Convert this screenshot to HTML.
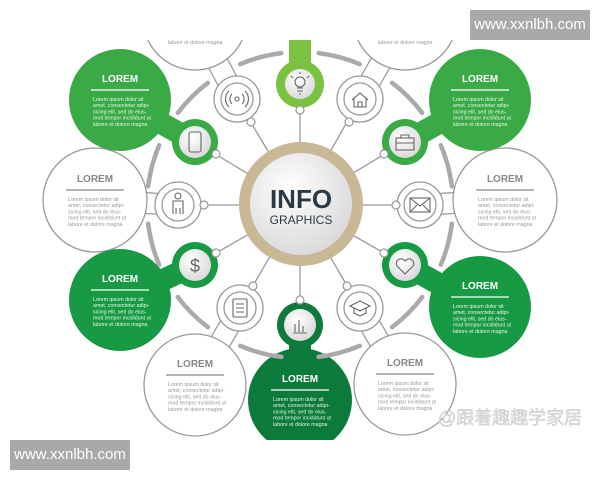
<!DOCTYPE html>
<html><head><meta charset="utf-8"><style>
html,body{margin:0;padding:0;background:#fff;width:600px;height:480px;overflow:hidden}
svg{display:block;font-family:"Liberation Sans",sans-serif}
.wm{position:absolute;background:#a9a9a9;color:#fff;font:15px "Liberation Sans",sans-serif;text-align:center;line-height:30px}
</style></head><body>
<svg width="600" height="480" viewBox="0 0 600 480">
<defs>
<clipPath id="c"><rect x="0" y="40" width="600" height="400"/></clipPath>
<radialGradient id="g" cx="40%" cy="35%" r="70%"><stop offset="0" stop-color="#fff"/><stop offset="1" stop-color="#d8d8d8"/></radialGradient>
</defs>
<g clip-path="url(#c)">
<g stroke="#999" stroke-width="1.3">
<line x1="300" y1="205" x2="237" y2="99"/><line x1="300" y1="205" x2="195" y2="142"/>
<line x1="300" y1="205" x2="178" y2="205"/><line x1="300" y1="205" x2="195" y2="265"/>
<line x1="300" y1="205" x2="240" y2="308"/><line x1="300" y1="205" x2="300" y2="325"/>
<line x1="300" y1="205" x2="360" y2="308"/><line x1="300" y1="205" x2="405" y2="265"/>
<line x1="300" y1="205" x2="420" y2="205"/><line x1="300" y1="205" x2="405" y2="142"/>
<line x1="300" y1="205" x2="360" y2="99"/><line x1="300" y1="205" x2="300" y2="84"/>
</g>
<g stroke-linecap="round">
<line x1="195" y1="142" x2="120" y2="100" stroke="#3aaa46" stroke-width="22"/>
<line x1="195" y1="265" x2="120" y2="300" stroke="#189a45" stroke-width="22"/>
<line x1="405" y1="142" x2="480" y2="100" stroke="#3aaa46" stroke-width="22"/>
<line x1="405" y1="265" x2="480" y2="307" stroke="#189a45" stroke-width="22"/>
<line x1="300" y1="325" x2="300" y2="400" stroke="#0b7a3a" stroke-width="22"/>
<line x1="300" y1="84" x2="300" y2="30" stroke="#7cc242" stroke-width="22"/>
</g>
<g stroke="#999" stroke-width="1.3" fill="#fff">
<path d="M237 99 L195 20" stroke-width="22"/><path d="M237 99 L195 20" stroke-width="19.5" stroke="#fff"/>
<path d="M178 205 L95 200" stroke-width="22"/><path d="M178 205 L95 200" stroke-width="19.5" stroke="#fff"/>
<path d="M240 308 L195 385" stroke-width="22"/><path d="M240 308 L195 385" stroke-width="19.5" stroke="#fff"/>
<path d="M360 308 L405 385" stroke-width="22"/><path d="M360 308 L405 385" stroke-width="19.5" stroke="#fff"/>
<path d="M420 205 L505 200" stroke-width="22"/><path d="M420 205 L505 200" stroke-width="19.5" stroke="#fff"/>
<path d="M360 99 L405 20" stroke-width="22"/><path d="M360 99 L405 20" stroke-width="19.5" stroke="#fff"/>
</g>
<g stroke="#999" stroke-width="1.3" fill="#fff">
<circle cx="195" cy="18" r="52"/><circle cx="405" cy="18" r="52"/>
<circle cx="95" cy="200" r="52"/><circle cx="505" cy="200" r="52"/>
<circle cx="195" cy="385" r="51"/><circle cx="405" cy="384" r="51"/>
</g>
<circle cx="120" cy="100" r="51" fill="#3aaa46"/>
<circle cx="480" cy="100" r="51" fill="#3aaa46"/>
<circle cx="120" cy="300" r="51" fill="#189a45"/>
<circle cx="480" cy="307" r="51" fill="#189a45"/>
<circle cx="300" cy="400" r="52" fill="#0b7a3a"/>
<g fill="none" stroke="#aaa" stroke-width="4.5" stroke-linecap="round" id="arcs"></g>
<g stroke="#999" stroke-width="1.3" fill="#fff">
<circle cx="237" cy="99" r="23"/><circle cx="178" cy="205" r="23"/><circle cx="240" cy="308" r="23"/>
<circle cx="360" cy="308" r="23"/><circle cx="420" cy="205" r="23"/><circle cx="360" cy="99" r="23"/>
<circle cx="237" cy="99" r="16"/><circle cx="178" cy="205" r="16"/><circle cx="240" cy="308" r="16"/>
<circle cx="360" cy="308" r="16"/><circle cx="420" cy="205" r="16"/><circle cx="360" cy="99" r="16"/>
</g>
<circle cx="195" cy="142" r="23" fill="#3aaa46"/><circle cx="195" cy="142" r="16" fill="url(#g)"/>
<circle cx="405" cy="142" r="23" fill="#3aaa46"/><circle cx="405" cy="142" r="16" fill="url(#g)"/>
<circle cx="195" cy="265" r="23" fill="#189a45"/><circle cx="195" cy="265" r="16" fill="url(#g)"/>
<circle cx="405" cy="265" r="23" fill="#189a45"/><circle cx="405" cy="265" r="16" fill="url(#g)"/>
<circle cx="300" cy="325" r="23" fill="#0b7a3a"/><circle cx="300" cy="325" r="16" fill="url(#g)"/>
<circle cx="300" cy="84" r="24" fill="#7cc242"/><circle cx="300" cy="84" r="15" fill="url(#g)"/>
<g fill="none" stroke="#666" stroke-width="1.1">
<circle cx="237" cy="99" r="2"/><path d="M232 94a7 7 0 0 0 0 10M242 94a7 7 0 0 1 0 10M229 91a11 11 0 0 0 0 16M245 91a11 11 0 0 1 0 16"/>
<rect x="189" y="132" width="12" height="20" rx="2"/>
<circle cx="178" cy="196" r="3"/><path d="M173 214v-13h10v13M176 214v-6M180 214v-6"/>
<text x="195" y="272" font-size="18" fill="#666" stroke="none" text-anchor="middle">$</text>
<rect x="233" y="299" width="14" height="18" rx="1"/><path d="M236 304h8M236 308h8M236 312h8"/>
<path d="M293 333h14M295 332v-8M299 332v-12M303 332v-6"/>
<path d="M350 306l10-5 10 5-10 5zM354 308v5l6 3 6-3v-5"/>
<path d="M405 274l-8-8a4 4 0 0 1 8-5 4 4 0 0 1 8 5z"/>
<rect x="410" y="198" width="20" height="14"/><path d="M410 198l10 8 10-8M410 212l7-7M430 212l-7-7"/>
<rect x="396" y="138" width="18" height="12"/><path d="M401 138v-3h8v3M396 143h18"/>
<path d="M352 100l8-7 8 7M354 98v9h12v-9M358 107v-5h4v5"/>
<circle cx="300" cy="82" r="5"/><path d="M297 88h6M297 91h6M299 94h2M291 76l2 2M309 76l-2 2M300 72v2"/>
</g>
<g fill="#fff" stroke="#999" stroke-width="1.2">
<circle cx="251" cy="122" r="4"/><circle cx="216" cy="154" r="4"/><circle cx="204" cy="205" r="4"/>
<circle cx="216" cy="253" r="4"/><circle cx="253" cy="286" r="4"/><circle cx="300" cy="300" r="4"/>
<circle cx="347" cy="286" r="4"/><circle cx="384" cy="253" r="4"/><circle cx="396" cy="205" r="4"/>
<circle cx="384" cy="154" r="4"/><circle cx="349" cy="122" r="4"/><circle cx="300" cy="110" r="4"/>
</g>
<circle cx="301" cy="204" r="62" fill="#c8b896"/>
<circle cx="301" cy="204" r="51" fill="url(#g)"/>
<text x="301" y="208" font-size="26" font-weight="bold" fill="#2b3a44" text-anchor="middle">INFO</text>
<text x="301" y="224" font-size="12" fill="#2b3a44" text-anchor="middle">GRAPHICS</text>
<g id="txt"></g>
<text x="510" y="424" font-size="18" fill="#e4e4e4" stroke="#c8c8c8" stroke-width="0.5" text-anchor="middle" font-family="'Liberation Sans','Noto Sans CJK SC',sans-serif">@跟着趣趣学家居</text>
</g>
</svg>
<div class="wm" style="left:470px;top:10px;width:120px;height:30px">www.xxnlbh.com</div>
<div class="wm" style="left:10px;top:440px;width:120px;height:30px">www.xxnlbh.com</div>
<script>
var ns="http://www.w3.org/2000/svg",a=document.getElementById("arcs");
[-165,-135,-105,-75,-45,-15,15,45,75,105,135,165].forEach(function(c){
var r=153,s=(c-8)*Math.PI/180,e=(c+8)*Math.PI/180,p=document.createElementNS(ns,"path");
p.setAttribute("d","M"+(300+r*Math.cos(s))+" "+(205+r*Math.sin(s))+"A"+r+" "+r+" 0 0 1 "+(300+r*Math.cos(e))+" "+(205+r*Math.sin(e)));a.appendChild(p);});
var t=document.getElementById("txt"),L=["Lorem ipsum dolor sit","amet, consectetur adipi-","sicing elit, sed do eius-","mod tempor incididunt ut","labore et dolore magna"];
[[195,18,0],[405,18,0],[95,200,0],[505,200,0],[195,385,0],[405,384,0],[120,100,1],[480,100,1],[120,300,1],[480,307,1],[300,400,1]].forEach(function(n){
var x=n[0],y=n[1],col=n[2]?"#fff":"#888",tc=n[2]?"#e8f5e8":"#999";
var h=document.createElementNS(ns,"text");h.setAttribute("x",x);h.setAttribute("y",y-18);h.setAttribute("font-size","10");h.setAttribute("font-weight","bold");h.setAttribute("fill",col);h.setAttribute("text-anchor","middle");h.textContent="LOREM";t.appendChild(h);
var l=document.createElementNS(ns,"line");l.setAttribute("x1",x-29);l.setAttribute("x2",x+29);l.setAttribute("y1",y-10);l.setAttribute("y2",y-10);l.setAttribute("stroke",col);l.setAttribute("stroke-width","1.2");t.appendChild(l);
L.forEach(function(s,i){var q=document.createElementNS(ns,"text");q.setAttribute("x",x-27);q.setAttribute("y",y+1+i*6.2);q.setAttribute("font-size","5.3");q.setAttribute("fill",tc);q.textContent=s;t.appendChild(q);});});
</script>
</body></html>
